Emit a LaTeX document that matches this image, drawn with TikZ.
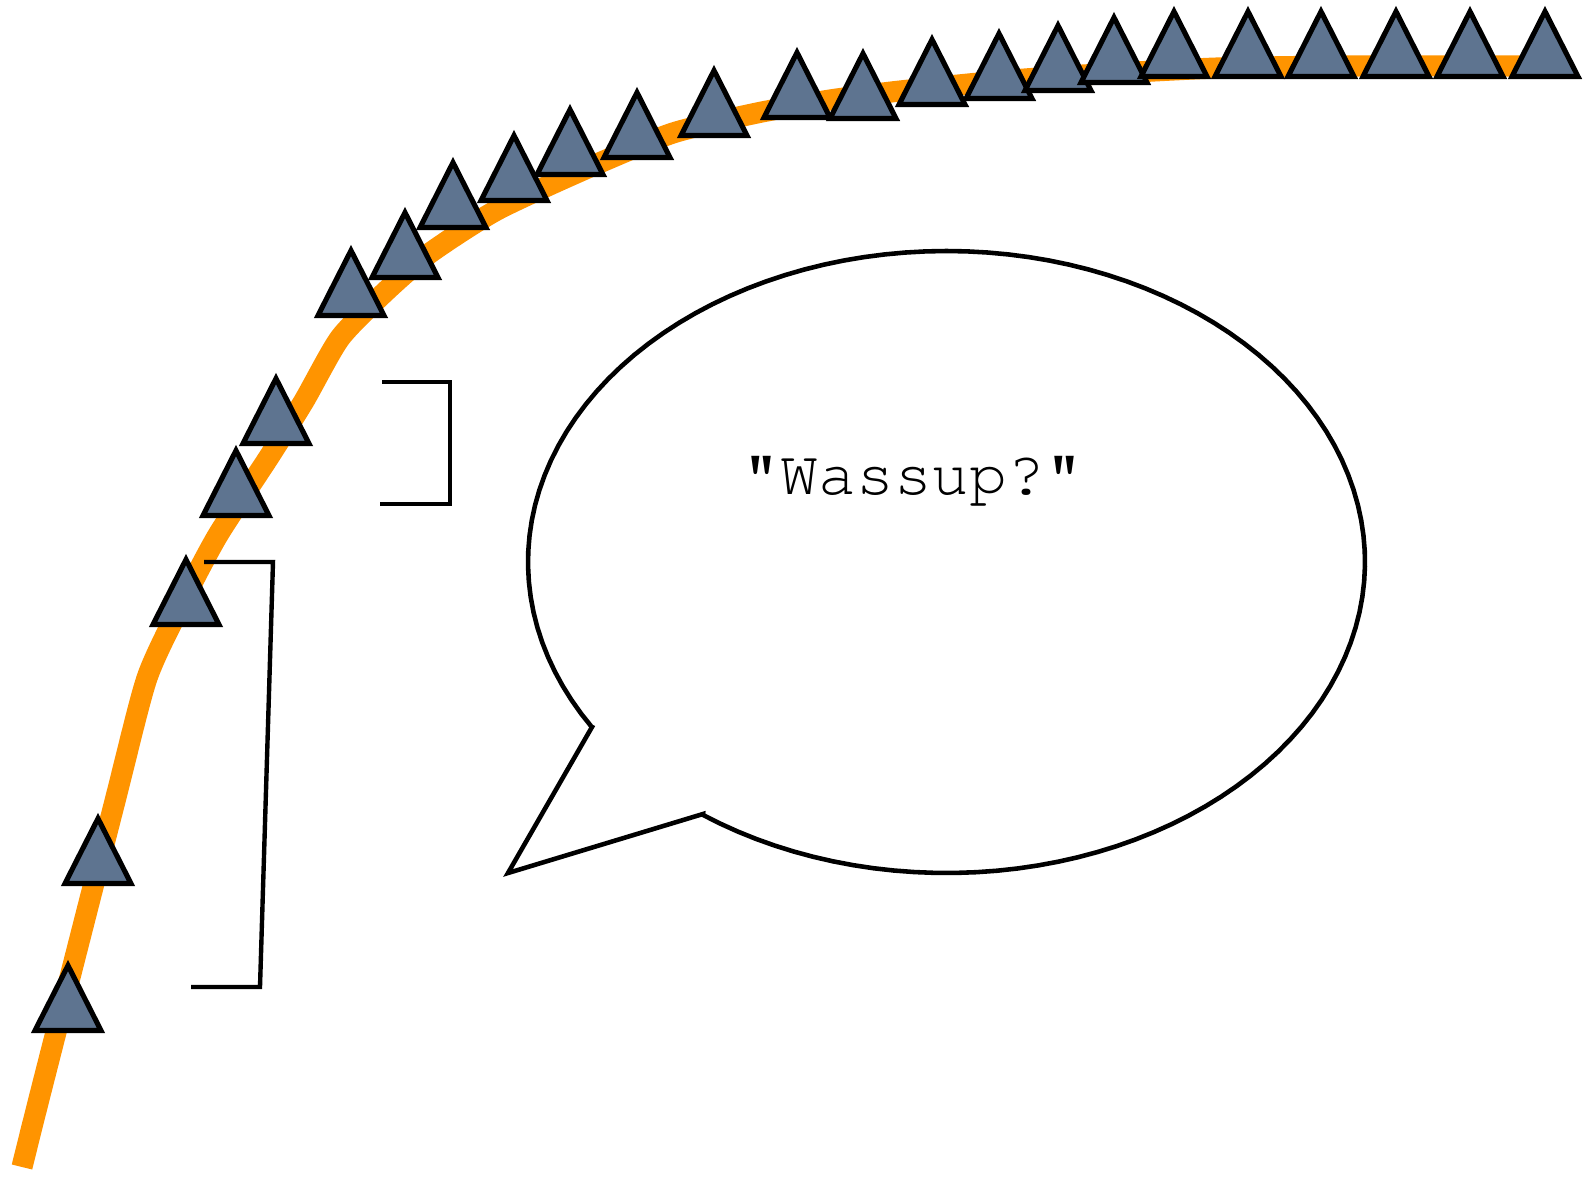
\documentclass[tikz,border=0pt]{standalone}
\usepackage{fontspec}
\definecolor{trackorange}{RGB}{255,148,0}
\definecolor{slate}{RGB}{94,116,144}

\begin{document}
\begin{tikzpicture}[x=0.2mm,y=-0.2mm,
  track/.style={draw=trackorange,line width=12pt,line join=round},
  marker/.style={draw=black,fill=slate,line width=2.9pt,line join=miter},
  bracket/.style={draw=black,line width=2.5pt},
  balloon/.style={draw=black,line width=2.6pt,fill=white,line join=miter}]
\useasboundingbox (0,0) rectangle (1591,1178);
% orange curve
\draw[track] plot[smooth,tension=0.4] coordinates {(22,1167) (41,1091) (114,805)
  (147,678) (183,601) (218,535) (269,457) (304,401) (340,338) (385,292) (430,253)
  (497,210) (590,167) (673,133) (757,113) (830,100) (900,91) (1000,81) (1083,75)
  (1217,68) (1350,66) (1540,66)};
% markers along the curve
\foreach \x/\b in {68/1033,98/886,186/627,236/518,276/446,351/318,405/280,453/230,
  514/203,570/177,637/160,714/138,797/120,863/121,932/107,999/101,1058/93,1114/85,
  1174/79,1248/79,1321/79,1396/79,1470/79,1545/79}
  \draw[marker] (\x,\b-67.5) -- ++(33,65) -- ++(-66,0) -- cycle;
% brackets
\draw[bracket] (382,382) -- (450,382) -- (450,504) -- (380,504);
\draw[bracket] (204,562) -- (273,562) -- (260,987) -- (191,987);
% speech balloon
\draw[balloon] (592,727) -- (508,873) -- (703,814)
  -- plot[domain=234.4:572,samples=120] ({946.5+418.5*cos(\x)},{562-311*sin(\x)}) -- cycle;
\node[font=\fontencoding{T1}\fontfamily{pcr}\fontsize{36}{36}\selectfont,anchor=base] (wassup) at (913,494) {"Wassup?"};
\end{tikzpicture}
\end{document}
